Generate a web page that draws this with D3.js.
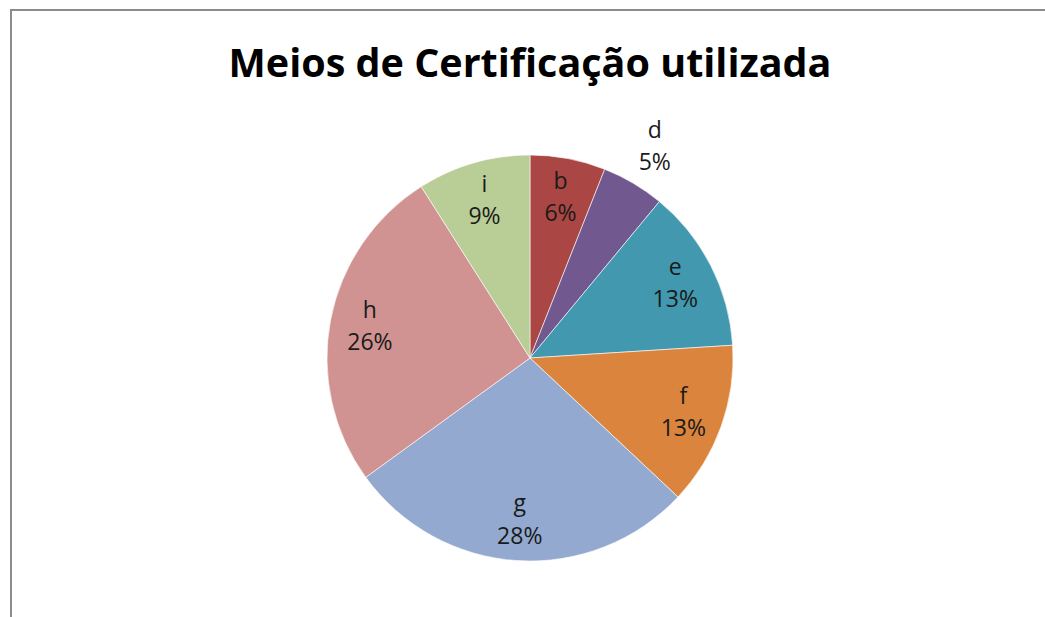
<!DOCTYPE html>
<html>
<head>
<meta charset="utf-8">
<script src="https://cdn.jsdelivr.net/npm/d3@7"></script>
<style>
	body { margin: 0; background: #fff; }
	svg { display: block; }
	.title { font-family: "Open Sans", "Noto Sans", sans-serif; font-weight: bold; }
	.lbl { font-family: "Open Sans", "Noto Sans", sans-serif; fill: #1a1a1a; }
</style>
</head>
<body>
<div id="chart"></div>
<script>
// data
var categories = ["b", "d", "e", "f", "g", "h", "i"];
var values = [6, 5, 13, 13, 28, 26, 9];
var colors = ["#AA4643", "#71588F", "#4198AF", "#DB843D", "#93A9CF", "#D19392", "#B9CD96"];
var title = "Meios de Certificação utilizada";

var W = 1045, H = 617;
var cx = 530, cy = 358, radius = 203;

var svg = d3.select("#chart").append("svg")
	.attr("width", W)
	.attr("height", H);

// chart frame (runs off the right / bottom edge)
svg.append("rect")
	.attr("x", 11).attr("y", 10)
	.attr("width", W + 20).attr("height", H + 20)
	.attr("fill", "#fff")
	.attr("stroke", "#8c8c8c")
	.attr("stroke-width", 2);

svg.append("text")
	.attr("class", "title")
	.attr("x", 530).attr("y", 77)
	.attr("text-anchor", "middle")
	.attr("font-size", 39.5)
	.text(title);

var data = categories.map(function(c, i){ return {name: c, value: values[i], color: colors[i]}; });
var total = d3.sum(values);

var pie = d3.pie().sort(null).value(function(d){ return d.value; });
var arc = d3.arc().innerRadius(0).outerRadius(radius);
var inLabel = d3.arc().innerRadius(163).outerRadius(163);
var outLabel = d3.arc().innerRadius(245).outerRadius(245);

var g = svg.append("g").attr("transform", "translate(" + cx + "," + cy + ")");

var arcs = pie(data);

g.selectAll("path")
	.data(arcs)
	.enter().append("path")
		.attr("d", arc)
		.attr("fill", function(d){ return d.data.color; })
		.attr("stroke", "#fff")
		.attr("stroke-width", 0.6);

// labels: small slices go outside
var lbl = g.selectAll("text.lbl")
	.data(arcs)
	.enter().append("text")
		.attr("class", "lbl")
		.attr("font-size", 23)
		.attr("text-anchor", "middle")
		.attr("transform", function(d){
			var p = (d.data.value / total < 0.055 ? outLabel : inLabel).centroid(d);
			return "translate(" + p[0] + "," + p[1] + ")";
		});

lbl.append("tspan").attr("x", 0).attr("dy", "-0.4em").text(function(d){ return d.data.name; });
lbl.append("tspan").attr("x", 0).attr("dy", "1.4em")
	.text(function(d){ return Math.round(d.data.value / total * 100) + "%"; });
</script>
</body>
</html>
